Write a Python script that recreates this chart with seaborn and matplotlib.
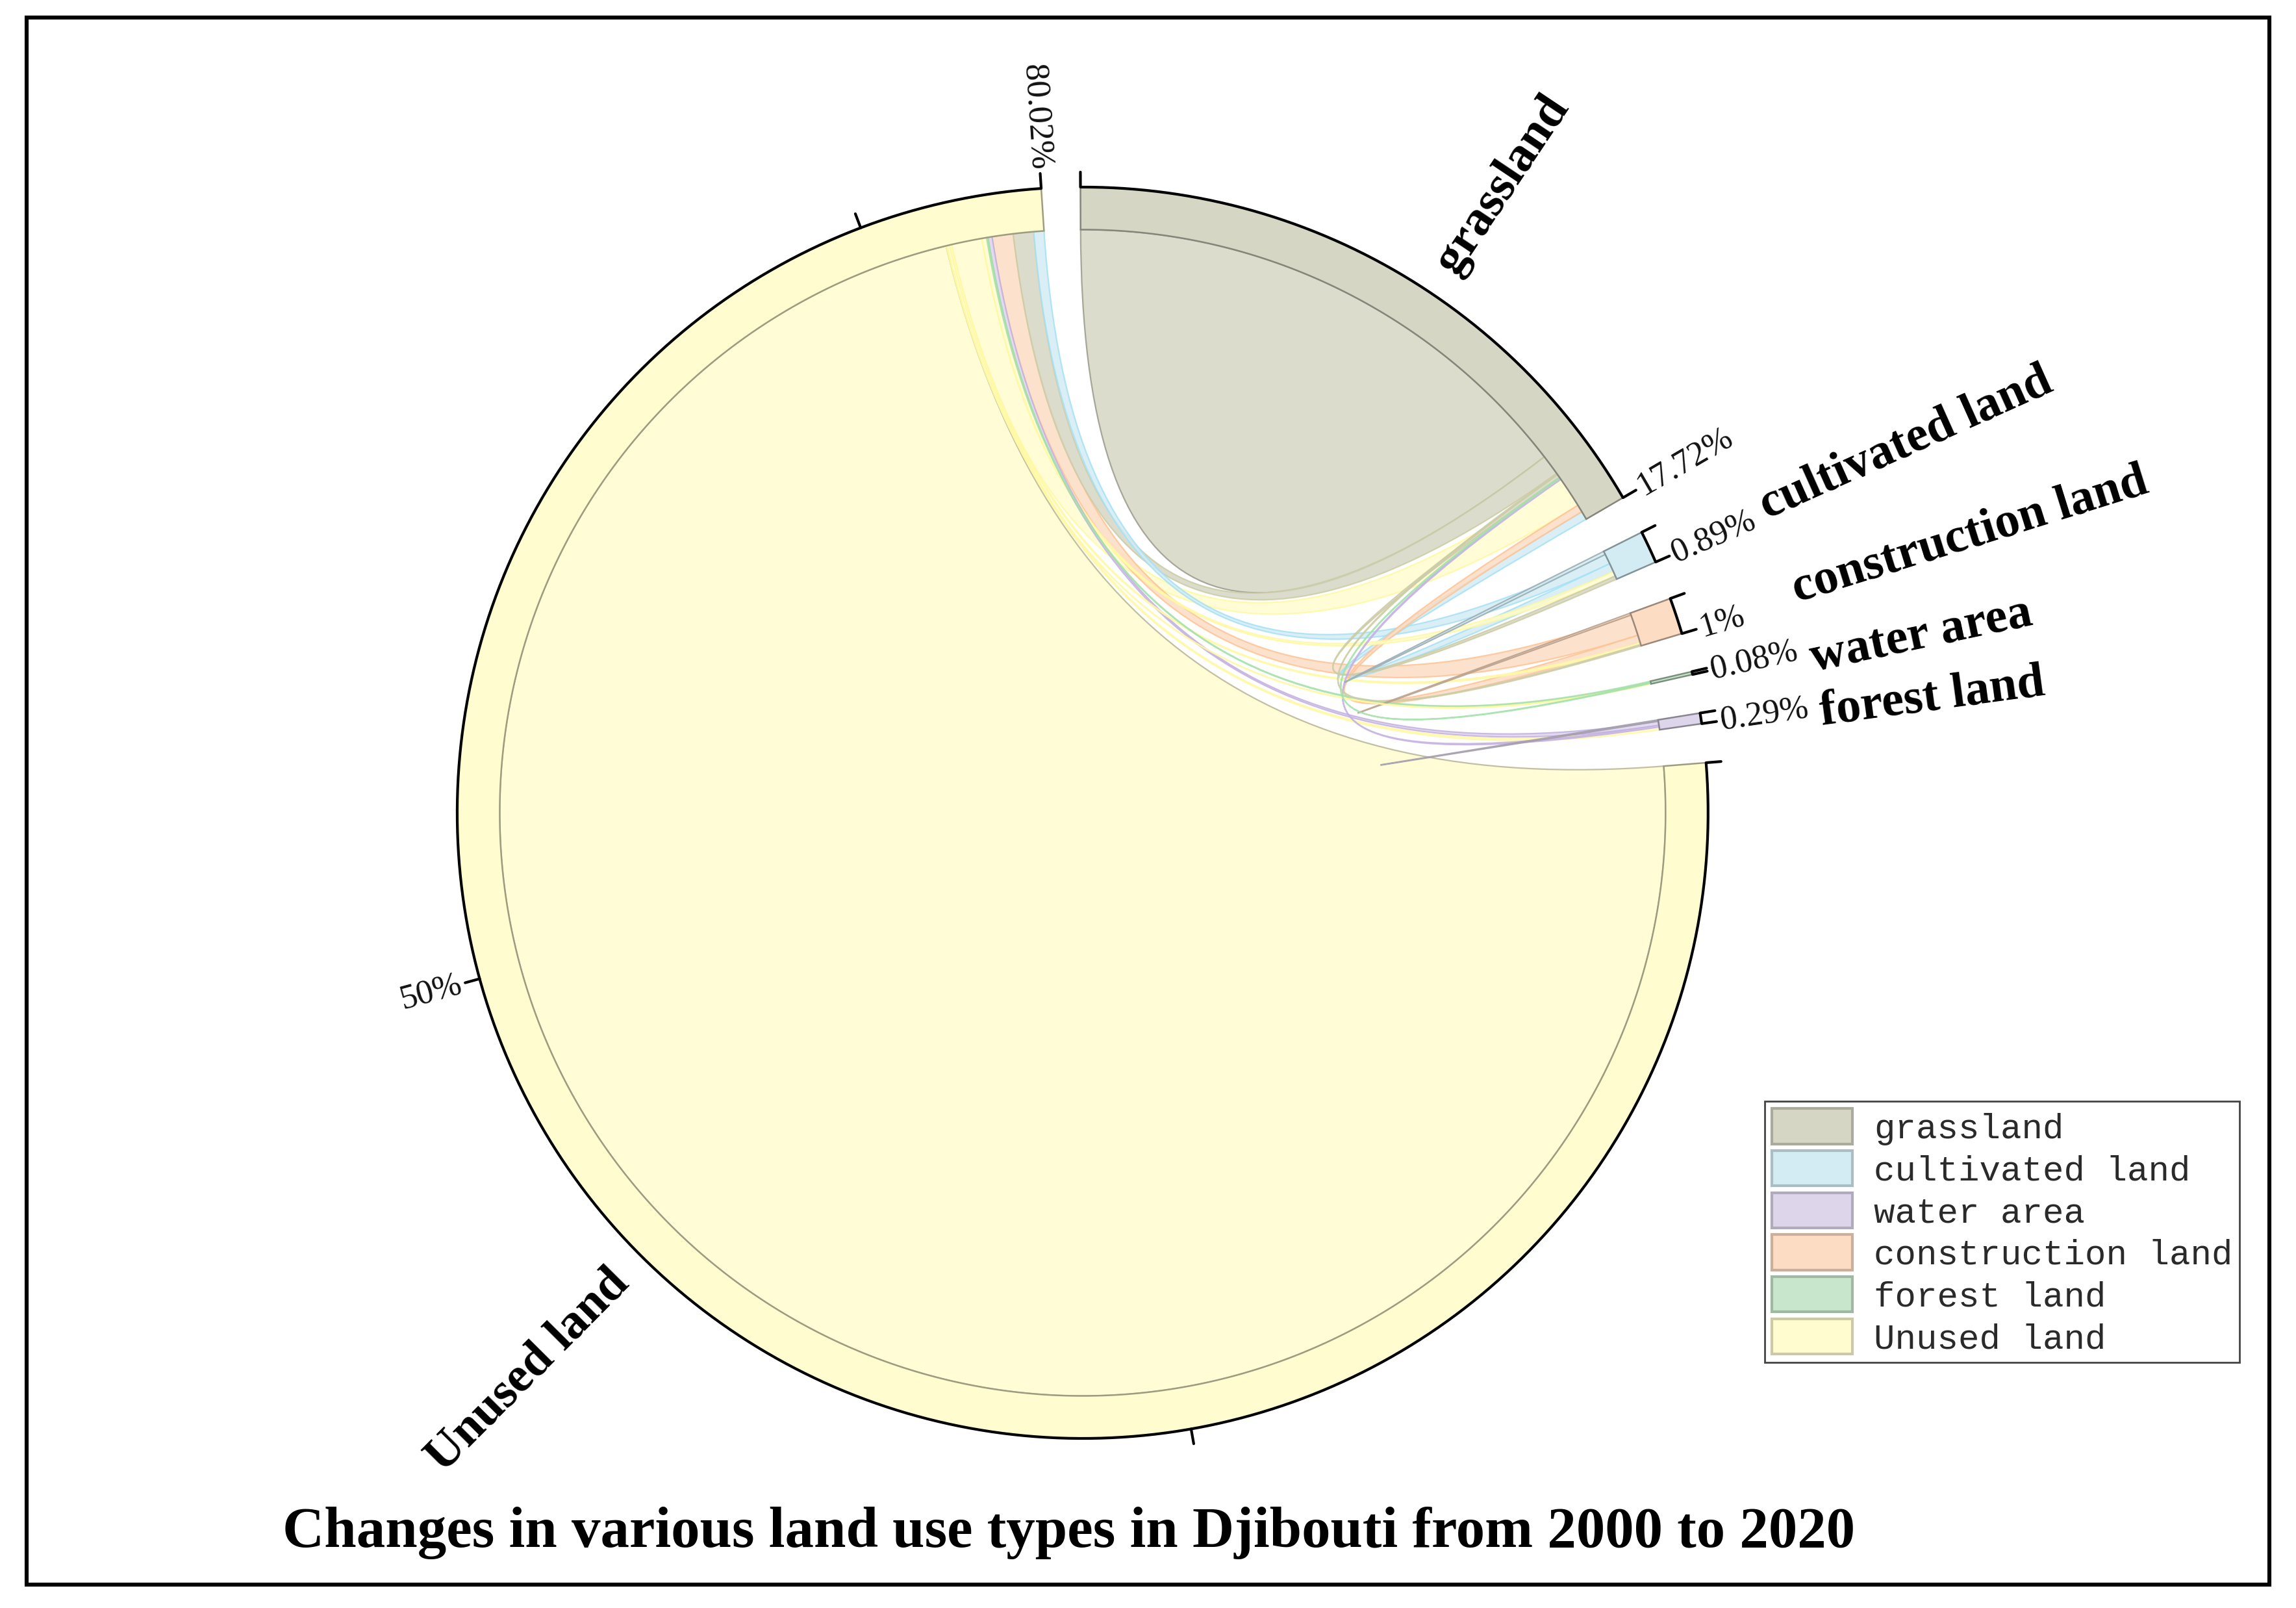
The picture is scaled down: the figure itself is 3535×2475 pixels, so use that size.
import colorsys
import numpy as np
import matplotlib
matplotlib.use("Agg")
import matplotlib.pyplot as plt
import seaborn as sns
from matplotlib.path import Path
from matplotlib.patches import PathPatch, Patch, Rectangle
from matplotlib.colors import to_rgb

# ---------------- data ----------------
sectors = ["grassland", "cultivated land", "construction land",
           "water area", "forest land", "Unused land"]
shares = [17.72, 0.89, 1.00, 0.08, 0.29, 80.02]     # % printed at each sector end
# land moved between classes, in % of the diagram (rows: source, cols: target)
transfer = np.array([
    [7.77, 0.10, 0.04, 0.00, 0.00, 0.60],
    [0.25, 0.05, 0.00, 0.00, 0.00, 0.30],
    [0.22, 0.00, 0.03, 0.00, 0.00, 0.62],
    [0.02, 0.00, 0.00, 0.00, 0.00, 0.04],
    [0.05, 0.00, 0.00, 0.00, 0.02, 0.12],
    [0.90, 0.14, 0.06, 0.02, 0.08, 38.57],
])
sector_colors = ["#d6d6c4", "#d3ecf4", "#fcdcc3", "#c8e6cb", "#ddd5ea", "#fffccf"]

legend_labels = ["grassland", "cultivated land", "water area",
                 "construction land", "forest land", "Unused land"]
legend_colors = ["#d6d6c4", "#d3ecf4", "#ddd5ea", "#fcdcc3", "#c8e6cb", "#fffccf"]

title = "Changes in various land use types in Djibouti from 2000 to 2020"

# ---------------- layout ----------------
START = 90.2          # angle where the first sector starts (deg, clockwise)
GAP = 3.6
R_OUT, R_IN = 1.0, 0.932
K = 0.33              # bezier control pull toward the centre
PARTNER_ORDER = [3, 4, 5, 2, 0, 1]
SERIF = "Liberation Serif"

sns.set_theme(style="white")
plt.rcParams["font.family"] = [SERIF, "DejaVu Serif"]


def darker(c, f=0.75):
    r, g, b = to_rgb(c)
    return (r * f, g * f, b * f)


def deeper(c, light=0.9, sat=1.25):
    h, l, s = colorsys.rgb_to_hls(*to_rgb(c))
    return colorsys.hls_to_rgb(h, l * light, min(1.0, s * sat + 0.05))


def pt(theta, r=R_IN):
    t = np.radians(theta)
    return np.array([r * np.cos(t), r * np.sin(t)])


def arc_pts(t0, t1, r=R_IN):
    m = max(int(abs(t1 - t0) * 3) + 2, 2)
    return [pt(t, r) for t in np.linspace(t0, t1, m)]


def ribbon_path(a0, a1, b0=None, b1=None):
    A = arc_pts(a0, a1)
    verts = list(A)
    codes = [Path.MOVETO] + [Path.LINETO] * (len(A) - 1)
    if b0 is None:                      # self transfer: loop back onto itself
        verts += [K * pt(a1), K * pt(a0), pt(a0)]
        codes += [Path.CURVE4] * 3
    else:
        verts += [K * pt(a1), K * pt(b0), pt(b0)]
        codes += [Path.CURVE4] * 3
        B = arc_pts(b0, b1)
        verts += B[1:]
        codes += [Path.LINETO] * (len(B) - 1)
        verts += [K * pt(b1), K * pt(a0), pt(a0)]
        codes += [Path.CURVE4] * 3
    verts.append(pt(a0))
    codes.append(Path.CLOSEPOLY)
    return Path(verts, codes)


def radial_text(ax, theta, r, s, **kw):
    x, y = pt(theta, r)
    th = theta % 360
    if 90 < th < 270:
        rot, ha = th - 180, "right"
    else:
        rot, ha = (th if th <= 90 else th - 360), "left"
    ax.text(x, y, s, rotation=rot, ha=ha, va="center",
            rotation_mode="anchor", **kw)


n = len(sectors)
diag = np.diag(transfer)
arc = 2 * diag + (transfer.sum(1) - diag) + (transfer.sum(0) - diag)
deg = (360 - n * GAP) / arc.sum()

starts, ends = [], []
cur = START
for a in arc:
    starts.append(cur)
    cur -= a * deg
    ends.append(cur)
    cur -= GAP

# place ribbon ends along every sector: self, outgoing, incoming
slots = {}
for i in range(n):
    pos = starts[i]
    items = []
    if transfer[i, i] > 0:
        items.append(("self", i, 2 * transfer[i, i]))
    for j in PARTNER_ORDER:
        if j != i and transfer[i, j] > 0:
            items.append(("out", j, transfer[i, j]))
    for j in PARTNER_ORDER:
        if j != i and transfer[j, i] > 0:
            items.append(("in", j, transfer[j, i]))
    for kind, j, w in items:
        slots[(i, kind, j)] = (pos, pos - w * deg)
        pos -= w * deg

fig = plt.figure(figsize=(17.675, 12.375), dpi=200)
ax = fig.add_axes([0, 0, 1, 1])
ax.set_xlim(-1.731, 1.940)
ax.set_ylim(-1.271, 1.299)
ax.axis("off")

# ribbons (coloured by source), widest first
links = [(transfer[i, j], i, j) for i in range(n) for j in range(n) if transfer[i, j] > 0]
links.sort(reverse=True)
for w, i, j in links:
    col = sector_colors[i]
    if i == j:
        a0, a1 = slots[(i, "self", i)]
        path = ribbon_path(a0, a1)
        edge = darker(col, 0.72)
    else:
        a0, a1 = slots[(i, "out", j)]
        b0, b1 = slots[(j, "in", i)]
        path = ribbon_path(a0, a1, b0, b1)
        edge = deeper(col)
    ax.add_patch(PathPatch(path, facecolor=col, edgecolor=edge,
                           lw=0.8, alpha=0.85, zorder=2))

# outer track
for i in range(n):
    outer = arc_pts(starts[i], ends[i], R_OUT)
    inner = arc_pts(ends[i], starts[i], R_IN)
    ring = np.array(outer + inner + [outer[0]])
    ax.fill(ring[:, 0], ring[:, 1], facecolor=sector_colors[i],
            edgecolor=darker(sector_colors[i], 0.62), lw=0.9, zorder=3)
    o = np.array(outer)
    ax.plot(o[:, 0], o[:, 1], color="black", lw=1.5, zorder=4,
            solid_capstyle="butt")

# ticks and tick labels
for i in range(n):
    marks = [0.0] + [p for p in np.arange(25, shares[i], 25)] + [shares[i]]
    for p in marks:
        th = starts[i] - p * deg
        a, b = pt(th, R_OUT), pt(th, R_OUT + 0.024)
        ax.plot([a[0], b[0]], [a[1], b[1]], color="black", lw=1.5, zorder=4)
    for p in [p for p in np.arange(50, shares[i], 50)] + [shares[i]]:
        th = starts[i] - p * deg
        radial_text(ax, th, R_OUT + 0.03, f"{p:g}%", fontsize=19, color="#111111")

# sector names
for i in range(n):
    mid = (starts[i] + ends[i]) / 2
    if shares[i] > 10:
        radial_text(ax, mid - 4, 1.045, sectors[i], fontsize=27.5,
                    fontweight="bold", color="black")
    else:
        radial_text(ax, mid - 1, 1.19, sectors[i], fontsize=27.5,
                    fontweight="bold", color="black")

# legend
handles = [Patch(facecolor=c, edgecolor=darker(c, 0.8), lw=1.5) for c in legend_colors]
leg = fig.legend(handles, legend_labels, loc="upper left",
                 bbox_to_anchor=(0.7686, 0.315), bbox_transform=fig.transFigure,
                 prop={"family": "Liberation Mono", "size": 19.5},
                 handlelength=2.3, handleheight=1.17, labelspacing=0.15,
                 handletextpad=0.6, borderpad=0.2, borderaxespad=0,
                 frameon=True, fancybox=False, edgecolor="#444444", framealpha=1)
leg.get_frame().set_linewidth(1.0)
for t in leg.get_texts():
    t.set_color("#2a2a2a")

fig.text(0.4656, 0.0465, title, ha="center", va="center",
         fontsize=32, fontweight="bold", color="black")

fig.add_artist(Rectangle((0.0115, 0.0145), 0.977, 0.9745, transform=fig.transFigure,
                         fill=False, lw=2.2, ec="black"))

fig.savefig("out.png", dpi=200, facecolor="white")
